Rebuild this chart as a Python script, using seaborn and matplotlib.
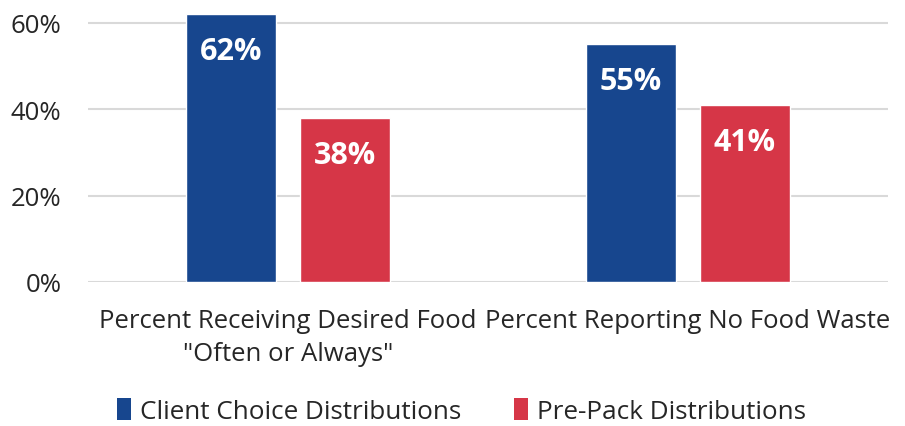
import matplotlib
matplotlib.use("Agg")
import matplotlib.pyplot as plt
import seaborn as sns
import pandas as pd
from matplotlib.patches import Patch

categories = ['Percent Receiving Desired Food\n"Often or Always"', 'Percent Reporting No Food Waste']
series = ['Client Choice Distributions', 'Pre-Pack Distributions']
client_choice = [62, 55]
pre_pack = [38, 41]
yticks = [0, 20, 40, 60]
colors = ['#17468e', '#d63647']

df = pd.DataFrame({
    'category': categories * 2,
    'series': [series[0]] * 2 + [series[1]] * 2,
    'value': client_choice + pre_pack,
})

sns.set_style('white')
plt.rcParams['font.family'] = ['Open Sans', 'DejaVu Sans']

fig = plt.figure(figsize=(9.05, 4.27), dpi=100)
ax = fig.add_axes([88/905, 1-283/427, 800/905, (283-2)/427])

sns.barplot(data=df, x='category', y='value', hue='series', palette=colors,
            width=0.57, gap=0.21, saturation=1, ax=ax, legend=False)

ax.set_ylim(0, 65)
ax.set_xlim(-0.5, 1.5)
ax.set_yticks(yticks)
ax.set_yticklabels([f'{v}%' for v in yticks], fontsize=18.5)
ax.tick_params(axis='y', length=0, pad=19)
ax.tick_params(axis='x', length=0, pad=19, labelsize=18.5)
for lab in ax.get_xticklabels():
    lab.set_linespacing(1.4)
ax.set_xlabel('')
ax.set_ylabel('')
ax.grid(axis='y', color='#d9d9d9', linewidth=1.5)
ax.set_axisbelow(True)
for s in ax.spines.values():
    s.set_visible(False)

for cont in ax.containers:
    for bar in cont:
        h = bar.get_height()
        ax.annotate(f'{h:.0f}%', (bar.get_x() + bar.get_width()/2, h),
                    xytext=(0, -26.5), textcoords='offset points',
                    ha='center', va='center', color='white',
                    fontsize=22, fontweight='bold')

handles = [Patch(facecolor=c, edgecolor='none') for c in colors]
fig.legend(handles, series, loc='center', bbox_to_anchor=(0.51, 1-412/427),
           ncol=2, frameon=False, fontsize=18.8, handlelength=0.55, handleheight=0.9,
           handletextpad=0.35, columnspacing=2.0)

fig.savefig('out.png', dpi=100)
